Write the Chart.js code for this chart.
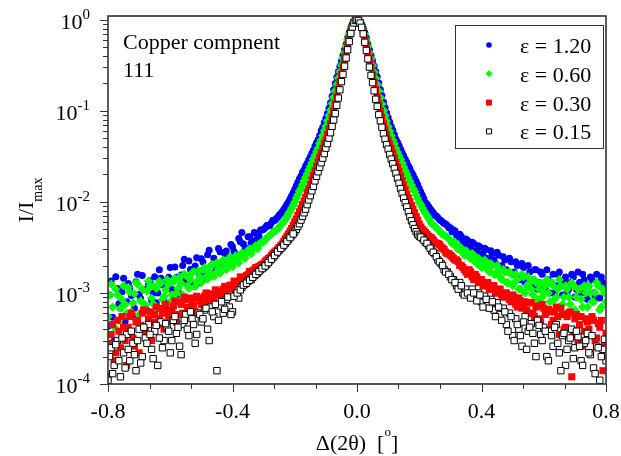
<!DOCTYPE html>
<html>
<head>
<meta charset="utf-8">
<script src="https://cdn.jsdelivr.net/npm/chart.js@4.4.0/dist/chart.umd.min.js"></script>
<style>
html, body { margin: 0; padding: 0; background: #fff; }
canvas { display: block; }
</style>
</head>
<body>
<canvas id="chart" width="621" height="456"></canvas>
<script>
// Δ(2θ) positions: left tail, peak, right tail, and the in-between tail points
var xLeft = [-0.80, -0.79, -0.78, -0.77, -0.76, -0.75, -0.74, -0.73, -0.72, -0.71,
  -0.70, -0.69, -0.68, -0.67, -0.66, -0.65, -0.64, -0.63, -0.62, -0.61,
  -0.60, -0.59, -0.58, -0.57, -0.56, -0.55, -0.54, -0.53, -0.52, -0.51,
  -0.50, -0.49, -0.48, -0.47, -0.46, -0.45, -0.44, -0.43, -0.42, -0.41,
  -0.40, -0.39, -0.38, -0.37, -0.36, -0.35, -0.34, -0.33, -0.32, -0.31,
  -0.30, -0.29, -0.28, -0.27, -0.26, -0.25, -0.24, -0.23, -0.22, -0.21];
var xCore = [-0.200, -0.195, -0.190, -0.185, -0.180, -0.175, -0.170, -0.165, -0.160, -0.155,
  -0.150, -0.145, -0.140, -0.135, -0.130, -0.125, -0.120, -0.115, -0.110, -0.105,
  -0.100, -0.095, -0.090, -0.085, -0.080, -0.075, -0.070, -0.065, -0.060, -0.055,
  -0.050, -0.045, -0.040, -0.035, -0.030, -0.025, -0.020, -0.015, -0.010, -0.005,
  0.000,
  0.005, 0.010, 0.015, 0.020, 0.025, 0.030, 0.035, 0.040, 0.045, 0.050,
  0.055, 0.060, 0.065, 0.070, 0.075, 0.080, 0.085, 0.090, 0.095, 0.100,
  0.105, 0.110, 0.115, 0.120, 0.125, 0.130, 0.135, 0.140, 0.145, 0.150,
  0.155, 0.160, 0.165, 0.170, 0.175, 0.180, 0.185, 0.190, 0.195, 0.200];
var xRight = [0.21, 0.22, 0.23, 0.24, 0.25, 0.26, 0.27, 0.28, 0.29, 0.30,
  0.31, 0.32, 0.33, 0.34, 0.35, 0.36, 0.37, 0.38, 0.39, 0.40,
  0.41, 0.42, 0.43, 0.44, 0.45, 0.46, 0.47, 0.48, 0.49, 0.50,
  0.51, 0.52, 0.53, 0.54, 0.55, 0.56, 0.57, 0.58, 0.59, 0.60,
  0.61, 0.62, 0.63, 0.64, 0.65, 0.66, 0.67, 0.68, 0.69, 0.70,
  0.71, 0.72, 0.73, 0.74, 0.75, 0.76, 0.77, 0.78, 0.79, 0.80];
var xLeftMid = [-0.795, -0.785, -0.775, -0.765, -0.755, -0.745, -0.735, -0.725, -0.715, -0.705,
  -0.695, -0.685, -0.675, -0.665, -0.655, -0.645, -0.635, -0.625, -0.615, -0.605,
  -0.595, -0.585, -0.575, -0.565, -0.555, -0.545, -0.535, -0.525, -0.515, -0.505,
  -0.495, -0.485, -0.475, -0.465, -0.455, -0.445, -0.435, -0.425, -0.415, -0.405,
  -0.395, -0.385, -0.375, -0.365, -0.355, -0.345, -0.335, -0.325, -0.315, -0.305,
  -0.295, -0.285, -0.275, -0.265, -0.255, -0.245, -0.235, -0.225, -0.215, -0.205];
var xRightMid = [0.205, 0.215, 0.225, 0.235, 0.245, 0.255, 0.265, 0.275, 0.285, 0.295,
  0.305, 0.315, 0.325, 0.335, 0.345, 0.355, 0.365, 0.375, 0.385, 0.395,
  0.405, 0.415, 0.425, 0.435, 0.445, 0.455, 0.465, 0.475, 0.485, 0.495,
  0.505, 0.515, 0.525, 0.535, 0.545, 0.555, 0.565, 0.575, 0.585, 0.595,
  0.605, 0.615, 0.625, 0.635, 0.645, 0.655, 0.665, 0.675, 0.685, 0.695,
  0.705, 0.715, 0.725, 0.735, 0.745, 0.755, 0.765, 0.775, 0.785, 0.795];

// eps = 1.20
var blueLeft = [0.00043, 0.00135, 0.00030, 0.00112, 0.00068, 0.00145, 0.00080, 0.00113, 0.00057, 0.00133,
  0.00096, 0.00155, 0.00068, 0.00123, 0.00083, 0.00151, 0.00100, 0.00145, 0.00082, 0.00139,
  0.00190, 0.00099, 0.00149, 0.00097, 0.00200, 0.00137, 0.00224, 0.00127, 0.00198, 0.00129,
  0.00237, 0.00161, 0.00262, 0.00159, 0.00241, 0.00183, 0.00283, 0.00210, 0.00288, 0.00216,
  0.00321, 0.00253, 0.00396, 0.00460, 0.00300, 0.00413, 0.00355, 0.00460, 0.00390, 0.00490,
  0.00500, 0.00550, 0.00550, 0.00630, 0.00650, 0.00720, 0.00780, 0.00880, 0.01000, 0.01170];
var blueCore = [0.0138, 0.0150, 0.0164, 0.0180, 0.0193, 0.0212, 0.0226, 0.0248, 0.0266, 0.0290,
  0.0314, 0.0342, 0.0370, 0.0410, 0.0445, 0.0482, 0.0535, 0.0605, 0.0660, 0.0745,
  0.0830, 0.0935, 0.107, 0.123, 0.145, 0.170, 0.200, 0.234, 0.269, 0.309,
  0.355, 0.407, 0.468, 0.537, 0.631, 0.724, 0.813, 0.891, 0.955, 0.989,
  1.0,
  0.990, 0.957, 0.893, 0.815, 0.726, 0.633, 0.540, 0.470, 0.410, 0.357,
  0.311, 0.271, 0.236, 0.202, 0.172, 0.147, 0.125, 0.109, 0.0950, 0.0845,
  0.0755, 0.0672, 0.0610, 0.0545, 0.0488, 0.0452, 0.0416, 0.0378, 0.0346, 0.0322,
  0.0294, 0.0272, 0.0250, 0.0232, 0.0212, 0.0198, 0.0182, 0.0168, 0.0154, 0.0140];
var blueRight = [0.0118, 0.0098, 0.0089, 0.0080, 0.0071, 0.0067, 0.0062, 0.0058, 0.0055, 0.0052,
  0.0049, 0.0043, 0.0044, 0.0037, 0.0039, 0.0032, 0.0036, 0.0029, 0.0033, 0.0027,
  0.0031, 0.0024, 0.0029, 0.0023, 0.0028, 0.0019, 0.0025, 0.0018, 0.0024, 0.0016,
  0.0022, 0.0015, 0.0021, 0.0013, 0.0020, 0.0014, 0.0018, 0.0011, 0.0017, 0.0012,
  0.0018, 0.0010, 0.0016, 0.0012, 0.0017, 0.00095, 0.0015, 0.0011, 0.0016, 0.00090,
  0.0017, 0.0010, 0.0014, 0.00085, 0.0015, 0.0010, 0.0016, 0.00088, 0.0013, 0.0010];
var blueLeftMid = [0.00095, 0.00054, 0.00151, 0.00076, 0.00103, 0.00049, 0.00127, 0.00094, 0.00068, 0.00160,
  0.00087, 0.00109, 0.00064, 0.00136, 0.00100, 0.00078, 0.00180, 0.00123, 0.00072, 0.00149,
  0.00109, 0.00193, 0.00103, 0.00157, 0.00235, 0.00127, 0.00181, 0.00119, 0.00244, 0.00160,
  0.00218, 0.00143, 0.00295, 0.00205, 0.00171, 0.00307, 0.00209, 0.00270, 0.00208, 0.00340,
  0.00285, 0.00259, 0.00365, 0.00345, 0.00310, 0.00415, 0.00375, 0.00450, 0.00420, 0.00490,
  0.00520, 0.00545, 0.00590, 0.00625, 0.00680, 0.00745, 0.00830, 0.00940, 0.01080, 0.01260];
var blueRightMid = [0.0128, 0.0108, 0.0094, 0.0084, 0.0076, 0.0070, 0.0064, 0.0060, 0.0057, 0.0052,
  0.0047, 0.0048, 0.0041, 0.0042, 0.0035, 0.0038, 0.0031, 0.0035, 0.0028, 0.0032,
  0.0026, 0.0030, 0.0024, 0.0027, 0.0021, 0.0026, 0.0020, 0.0023, 0.0017, 0.0022,
  0.0017, 0.0020, 0.0014, 0.0019, 0.0015, 0.0017, 0.0012, 0.0018, 0.0013, 0.0016,
  0.0011, 0.0014, 0.0013, 0.0010, 0.0016, 0.0012, 0.0014, 0.0010, 0.0013, 0.0015,
  0.0011, 0.0013, 0.0016, 0.0010, 0.0012, 0.0014, 0.0009, 0.0013, 0.0015, 0.0011];

// eps = 0.60
var greenLeft = [0.00055, 0.00125, 0.00042, 0.00095, 0.00068, 0.00120, 0.00060, 0.00102, 0.00078, 0.00130,
  0.00058, 0.00110, 0.00074, 0.00135, 0.00088, 0.00118, 0.00068, 0.00128, 0.00092, 0.00140,
  0.00080, 0.00132, 0.00100, 0.00150, 0.00095, 0.00155, 0.00112, 0.00165, 0.00118, 0.00175,
  0.00130, 0.00190, 0.00142, 0.00200, 0.00152, 0.00215, 0.00165, 0.00230, 0.00180, 0.00245,
  0.00195, 0.00255, 0.00215, 0.00275, 0.00240, 0.00295, 0.00270, 0.00320, 0.00305, 0.00350,
  0.00365, 0.00400, 0.00430, 0.00460, 0.00490, 0.00525, 0.00575, 0.00645, 0.00740, 0.00850];
var greenCore = [0.0100, 0.0110, 0.0120, 0.0132, 0.0141, 0.0155, 0.0170, 0.0186, 0.0204, 0.0224,
  0.0245, 0.0269, 0.0295, 0.0324, 0.0355, 0.0389, 0.0437, 0.0479, 0.0537, 0.0603,
  0.0676, 0.0776, 0.0891, 0.102, 0.120, 0.141, 0.166, 0.195, 0.229, 0.269,
  0.316, 0.372, 0.437, 0.513, 0.603, 0.692, 0.794, 0.881, 0.955, 0.989,
  1.0,
  0.988, 0.953, 0.879, 0.790, 0.688, 0.600, 0.510, 0.434, 0.370, 0.314,
  0.267, 0.228, 0.194, 0.165, 0.140, 0.119, 0.101, 0.0885, 0.0770, 0.0670,
  0.0598, 0.0532, 0.0475, 0.0432, 0.0385, 0.0350, 0.0320, 0.0292, 0.0266, 0.0242,
  0.0221, 0.0202, 0.0184, 0.0168, 0.0153, 0.0140, 0.0130, 0.0119, 0.0109, 0.0099];
var greenRight = [0.0086, 0.0075, 0.0066, 0.0058, 0.0054, 0.0050, 0.0046, 0.0043, 0.0041, 0.0038,
  0.0036, 0.0032, 0.0032, 0.0028, 0.0029, 0.0025, 0.0027, 0.0022, 0.0024, 0.0019,
  0.0023, 0.0018, 0.0021, 0.0016, 0.0020, 0.0015, 0.0018, 0.0013, 0.0017, 0.0012,
  0.0016, 0.0011, 0.0016, 0.0010, 0.0015, 0.0011, 0.0014, 0.00085, 0.0013, 0.0010,
  0.0014, 0.00080, 0.0012, 0.00090, 0.0014, 0.00075, 0.0012, 0.00090, 0.0013, 0.00065,
  0.0011, 0.00085, 0.0012, 0.00070, 0.0010, 0.00080, 0.0013, 0.00065, 0.0011, 0.00080];
var greenLeftMid = [0.00095, 0.00070, 0.00110, 0.00050, 0.00085, 0.00075, 0.00115, 0.00062, 0.00098, 0.00125,
  0.00082, 0.00068, 0.00105, 0.00120, 0.00076, 0.00112, 0.00135, 0.00085, 0.00108, 0.00125,
  0.00095, 0.00145, 0.00112, 0.00128, 0.00160, 0.00120, 0.00140, 0.00172, 0.00132, 0.00150,
  0.00180, 0.00150, 0.00168, 0.00205, 0.00165, 0.00188, 0.00220, 0.00190, 0.00212, 0.00240,
  0.00215, 0.00238, 0.00265, 0.00250, 0.00272, 0.00305, 0.00300, 0.00330, 0.00345, 0.00365,
  0.00385, 0.00415, 0.00445, 0.00475, 0.00505, 0.00550, 0.00610, 0.00690, 0.00790, 0.00920];
var greenRightMid = [0.0093, 0.0080, 0.0070, 0.0062, 0.0056, 0.0052, 0.0048, 0.0044, 0.0042, 0.0039,
  0.0035, 0.0036, 0.0030, 0.0031, 0.0026, 0.0028, 0.0024, 0.0026, 0.0021, 0.0023,
  0.0020, 0.0022, 0.0017, 0.0020, 0.0016, 0.0018, 0.0014, 0.0017, 0.0013, 0.0016,
  0.0013, 0.0014, 0.0011, 0.0015, 0.0012, 0.0013, 0.00095, 0.0013, 0.0011, 0.0009,
  0.0012, 0.0010, 0.0013, 0.00085, 0.0011, 0.0012, 0.0009, 0.0011, 0.00075, 0.0012,
  0.0009, 0.0011, 0.0007, 0.0010, 0.0012, 0.0008, 0.0010, 0.0012, 0.0007, 0.0010];

// eps = 0.30
var redLeft = [0.00012, 0.00035, 0.00018, 0.00050, 0.00025, 0.00042, 0.00016, 0.00055, 0.00032, 0.00048,
  0.00022, 0.00060, 0.00038, 0.00052, 0.00030, 0.00058, 0.00045, 0.00068, 0.00040, 0.00062,
  0.00050, 0.00072, 0.00048, 0.00080, 0.00060, 0.00085, 0.00065, 0.00078, 0.00062, 0.00088,
  0.00075, 0.00092, 0.00080, 0.00098, 0.00085, 0.00100, 0.00095, 0.00110, 0.00100, 0.00120,
  0.00112, 0.00130, 0.00125, 0.00145, 0.00140, 0.00160, 0.00165, 0.00180, 0.00185, 0.00200,
  0.00210, 0.00230, 0.00245, 0.00270, 0.00290, 0.00315, 0.00345, 0.00395, 0.00445, 0.00510];
var redCore = [0.00603, 0.00646, 0.00708, 0.00776, 0.00851, 0.00933, 0.0102, 0.0112, 0.0126, 0.0138,
  0.0155, 0.0174, 0.0195, 0.0219, 0.0245, 0.0275, 0.0309, 0.0347, 0.0389, 0.0437,
  0.0479, 0.0550, 0.0631, 0.0724, 0.0851, 0.100, 0.120, 0.145, 0.174, 0.209,
  0.251, 0.302, 0.363, 0.437, 0.525, 0.631, 0.741, 0.851, 0.933, 0.984,
  1.0,
  0.985, 0.930, 0.845, 0.738, 0.628, 0.522, 0.434, 0.360, 0.300, 0.249,
  0.207, 0.172, 0.144, 0.119, 0.0995, 0.0845, 0.0720, 0.0625, 0.0545, 0.0475,
  0.0432, 0.0385, 0.0343, 0.0305, 0.0270, 0.0240, 0.0215, 0.0192, 0.0172, 0.0153,
  0.0136, 0.0122, 0.0110, 0.0100, 0.0091, 0.0083, 0.0076, 0.0069, 0.0063, 0.0057];
var redRight = [0.0050, 0.0046, 0.0042, 0.0040, 0.0036, 0.0035, 0.0032, 0.0030, 0.0027, 0.0026,
  0.0024, 0.0023, 0.0020, 0.0019, 0.0017, 0.0018, 0.0015, 0.0016, 0.0013, 0.0014,
  0.0012, 0.0013, 0.0011, 0.0012, 0.0010, 0.0011, 0.0009, 0.0010, 0.00085, 0.00095,
  0.00075, 0.00088, 0.00068, 0.00080, 0.00060, 0.00078, 0.00055, 0.00072, 0.00048, 0.00068,
  0.00040, 0.00062, 0.00050, 0.00070, 0.00035, 0.00058, 0.00042, 0.00060, 0.00012, 0.00052,
  0.00030, 0.00055, 0.00038, 0.00048, 0.00022, 0.00050, 0.00032, 0.00042, 0.00014, 0.00036];
var redLeftMid = [0.00028, 0.00045, 0.00022, 0.00038, 0.00055, 0.00030, 0.00042, 0.00060, 0.00026, 0.00050,
  0.00044, 0.00065, 0.00035, 0.00062, 0.00048, 0.00070, 0.00052, 0.00060, 0.00075, 0.00055,
  0.00065, 0.00082, 0.00058, 0.00075, 0.00090, 0.00070, 0.00088, 0.00072, 0.00092, 0.00082,
  0.00085, 0.00100, 0.00088, 0.00095, 0.00108, 0.00098, 0.00105, 0.00118, 0.00110, 0.00122,
  0.00135, 0.00128, 0.00150, 0.00148, 0.00155, 0.00172, 0.00175, 0.00190, 0.00195, 0.00205,
  0.00222, 0.00238, 0.00258, 0.00280, 0.00302, 0.00330, 0.00370, 0.00420, 0.00478, 0.00555];
var redRightMid = [0.0053, 0.0048, 0.0044, 0.0041, 0.0038, 0.0035, 0.0034, 0.0031, 0.0028, 0.0027,
  0.0025, 0.0023, 0.0022, 0.0020, 0.0018, 0.0016, 0.0017, 0.0014, 0.0015, 0.0014,
  0.0012, 0.0013, 0.0011, 0.0012, 0.0010, 0.0011, 0.00095, 0.00100, 0.00090, 0.00080,
  0.00090, 0.00070, 0.00082, 0.00075, 0.00065, 0.00078, 0.00060, 0.00070, 0.00052, 0.00075,
  0.00058, 0.00066, 0.00045, 0.00062, 0.00055, 0.00068, 0.00040, 0.00055, 0.00062, 0.00035,
  0.00058, 0.00045, 0.00026, 0.00052, 0.00040, 0.00055, 0.00030, 0.00046, 0.00050, 0.00028];

// eps = 0.15
var blackLeft = [0.00011, 0.00025, 0.00016, 0.00030, 0.00012, 0.00022, 0.00035, 0.00018, 0.00028, 0.00014,
  0.00040, 0.00020, 0.00032, 0.00045, 0.00024, 0.00038, 0.00016, 0.00048, 0.00030, 0.00042,
  0.00022, 0.00050, 0.00036, 0.00026, 0.00045, 0.00058, 0.00034, 0.00052, 0.00028, 0.00060,
  0.00048, 0.00065, 0.00040, 0.00070, 0.00055, 0.00014, 0.00072, 0.00060, 0.00085, 0.00070,
  0.00062, 0.00095, 0.00088, 0.00115, 0.00125, 0.00135, 0.00140, 0.00155, 0.00165, 0.00180,
  0.00190, 0.00205, 0.00225, 0.00245, 0.00270, 0.00295, 0.00320, 0.00350, 0.00385, 0.00425];
var blackCore = [0.00468, 0.00501, 0.00537, 0.00575, 0.00631, 0.00692, 0.00759, 0.00832, 0.00933, 0.0105,
  0.0117, 0.0132, 0.0148, 0.0170, 0.0191, 0.0214, 0.0240, 0.0269, 0.0302, 0.0339,
  0.0389, 0.0437, 0.0501, 0.0575, 0.0676, 0.0794, 0.0933, 0.115, 0.138, 0.170,
  0.209, 0.251, 0.309, 0.380, 0.468, 0.575, 0.708, 0.832, 0.923, 0.982,
  1.0,
  0.981, 0.920, 0.826, 0.700, 0.566, 0.460, 0.372, 0.302, 0.245, 0.204,
  0.166, 0.134, 0.112, 0.0905, 0.0775, 0.0660, 0.0560, 0.0488, 0.0426, 0.0380,
  0.0332, 0.0295, 0.0262, 0.0233, 0.0206, 0.0182, 0.0160, 0.0140, 0.0124, 0.0110,
  0.0098, 0.0088, 0.0078, 0.0069, 0.0062, 0.0056, 0.0051, 0.0047, 0.0044, 0.0042];
var blackRight = [0.0040, 0.0036, 0.0033, 0.0029, 0.0027, 0.0023, 0.0021, 0.0018, 0.0017, 0.0015,
  0.0014, 0.0012, 0.0013, 0.0010, 0.0011, 0.00095, 0.0011, 0.00090, 0.0010, 0.00080,
  0.00092, 0.00075, 0.00085, 0.00065, 0.00078, 0.00058, 0.00068, 0.00045, 0.00060, 0.00034,
  0.00052, 0.00040, 0.00026, 0.00055, 0.00038, 0.00046, 0.00028, 0.00050, 0.00035, 0.00042,
  0.00020, 0.00038, 0.00026, 0.00045, 0.00022, 0.00034, 0.00016, 0.00030, 0.00040, 0.00025,
  0.00033, 0.00018, 0.00028, 0.00036, 0.00021, 0.00015, 0.00026, 0.00011, 0.00024, 0.00018];
var blackLeftMid = [0.00020, 0.00013, 0.00027, 0.00018, 0.00032, 0.00015, 0.00024, 0.00038, 0.00021, 0.00030,
  0.00017, 0.00042, 0.00028, 0.00035, 0.00019, 0.00044, 0.00032, 0.00025, 0.00046, 0.00038,
  0.00030, 0.00055, 0.00042, 0.00021, 0.00050, 0.00040, 0.00062, 0.00045, 0.00035, 0.00058,
  0.00052, 0.00068, 0.00030, 0.00062, 0.00075, 0.00050, 0.00080, 0.00066, 0.00090, 0.00058,
  0.00092, 0.00100, 0.00108, 0.00122, 0.00128, 0.00138, 0.00148, 0.00160, 0.00172, 0.00185,
  0.00198, 0.00215, 0.00235, 0.00258, 0.00282, 0.00308, 0.00335, 0.00368, 0.00405, 0.00445];
var blackRightMid = [0.0041, 0.0038, 0.0035, 0.0031, 0.0028, 0.0025, 0.0022, 0.0020, 0.0017, 0.0016,
  0.0014, 0.0013, 0.0011, 0.0012, 0.00095, 0.0010, 0.00088, 0.0010, 0.00082, 0.00095,
  0.00070, 0.00085, 0.00068, 0.00080, 0.00055, 0.00070, 0.00050, 0.00062, 0.00038, 0.00055,
  0.00030, 0.00045, 0.00034, 0.00048, 0.00024, 0.00042, 0.00036, 0.00020, 0.00044, 0.00030,
  0.00038, 0.00018, 0.00034, 0.00042, 0.00028, 0.00014, 0.00036, 0.00024, 0.00032, 0.00019,
  0.00038, 0.00026, 0.00016, 0.00030, 0.00022, 0.00034, 0.00013, 0.00025, 0.00020, 0.00031];

var seriesLabels = ['\u03b5 = 1.20', '\u03b5 = 0.60', '\u03b5 = 0.30', '\u03b5 = 0.15'];
var xTicks = [-0.8, -0.4, 0.0, 0.4, 0.8];
var xTickLabels = ['-0.8', '-0.4', '0.0', '0.4', '0.8'];
var yTicks = [1, 0.1, 0.01, 0.001, 0.0001];
var yTickExps = ['0', '-1', '-2', '-3', '-4'];

var serif = '"Liberation Serif", "Times New Roman", serif';
var axisColor = '#333333';

var xGroups = [xLeft, xCore, xRight, xLeftMid, xRightMid];
function toPoints(yGroups) {
    var pts = [];
    yGroups.forEach(function (ys, g) {
        xGroups[g].forEach(function (x, i) { pts.push({ x: x, y: ys[i] }); });
    });
    return pts;
}

// frame, ticks, labels, note and legend drawn by hand: the original has
// superscript tick labels, short minor ticks and a boxed legend inside the plot
var decorations = {
    id: 'decorations',
    afterDatasetsDraw: function (chart) {
        var ctx = chart.ctx;
        var a = chart.chartArea;
        var xs = chart.scales.x, ys = chart.scales.y;
        ctx.save();

        ctx.strokeStyle = axisColor;
        ctx.lineWidth = 1.6;
        ctx.strokeRect(a.left, a.top, a.right - a.left, a.bottom - a.top);

        ctx.lineWidth = 1;
        ctx.beginPath();
        for (var i = 0; i < xTicks.length; i++) {
            var px = Math.round(xs.getPixelForValue(xTicks[i])) + 0.5;
            ctx.moveTo(px, a.bottom);
            ctx.lineTo(px, a.bottom + 8);
            if (i < xTicks.length - 1) {
                var step = (xTicks[i + 1] - xTicks[i]) / 3;
                for (var m = 1; m < 3; m++) {
                    var mx = Math.round(xs.getPixelForValue(xTicks[i] + m * step)) + 0.5;
                    ctx.moveTo(mx, a.bottom);
                    ctx.lineTo(mx, a.bottom + 5);
                }
            }
        }
        for (var j = 0; j < yTicks.length; j++) {
            var py = Math.round(ys.getPixelForValue(yTicks[j])) + 0.5;
            ctx.moveTo(a.left, py);
            ctx.lineTo(a.left - 8, py);
            if (j > 0) {
                for (var k = 2; k < 10; k++) {
                    var my = Math.round(ys.getPixelForValue(yTicks[j] * k)) + 0.5;
                    ctx.moveTo(a.left, my);
                    ctx.lineTo(a.left - 5, my);
                }
            }
        }
        ctx.stroke();

        ctx.fillStyle = '#000';
        ctx.textBaseline = 'alphabetic';

        ctx.font = '22px ' + serif;
        ctx.textAlign = 'center';
        xTicks.forEach(function (v, i) {
            ctx.fillText(xTickLabels[i], xs.getPixelForValue(v), a.bottom + 34);
        });

        ctx.textAlign = 'left';
        yTicks.forEach(function (v, i) {
            var py = ys.getPixelForValue(v);
            ctx.font = '15px ' + serif;
            var wExp = ctx.measureText(yTickExps[i]).width;
            ctx.font = '22px ' + serif;
            var wBase = ctx.measureText('10').width;
            var right = a.left - 18;
            ctx.fillText('10', right - wExp - wBase, py + 9);
            ctx.font = '15px ' + serif;
            ctx.fillText(yTickExps[i], right - wExp, py - 1);
        });

        // x title with raised degree mark
        var t1 = '\u0394(2\u03b8)  [', t2 = 'o', t3 = ']';
        ctx.font = '22px ' + serif;
        var w1 = ctx.measureText(t1).width, w3 = ctx.measureText(t3).width;
        ctx.font = '13px ' + serif;
        var w2 = ctx.measureText(t2).width;
        var cx = (a.left + a.right) / 2;
        var sx = cx - (w1 + w2 + w3) / 2;
        var by = a.bottom + 66;
        ctx.font = '22px ' + serif;
        ctx.fillText(t1, sx, by);
        ctx.fillText(t3, sx + w1 + w2, by);
        ctx.font = '13px ' + serif;
        ctx.fillText(t2, sx + w1, by - 14);

        // y title I/I_max
        ctx.save();
        ctx.translate(33, (a.top + a.bottom) / 2);
        ctx.rotate(-Math.PI / 2);
        ctx.font = '22px ' + serif;
        var wa = ctx.measureText('I/I').width;
        ctx.font = '14px ' + serif;
        var wb = ctx.measureText('max').width;
        var st = -(wa + wb) / 2;
        ctx.font = '22px ' + serif;
        ctx.fillText('I/I', st, 0);
        ctx.font = '14px ' + serif;
        ctx.fillText('max', st + wa, 9);
        ctx.restore();

        ctx.font = '22px ' + serif;
        ctx.fillText('Copper compnent', a.left + 15, a.top + 33);
        ctx.fillText('111', a.left + 15, a.top + 61);

        // legend box
        ctx.lineWidth = 1;
        ctx.strokeStyle = axisColor;
        ctx.strokeRect(455.5, 25.5, 148, 123);
        chart.data.datasets.forEach(function (ds, i) {
            var ly = 45 + i * 28.8;
            var lx = 489;
            ctx.fillStyle = ds.backgroundColor;
            ctx.strokeStyle = ds.borderColor;
            ctx.beginPath();
            if (ds.pointStyle === 'circle') {
                ctx.arc(lx, ly, 2.8, 0, Math.PI * 2);
                ctx.fill();
            } else if (ds.pointStyle === 'rectRot') {
                ctx.moveTo(lx - 3.5, ly); ctx.lineTo(lx, ly - 3.5);
                ctx.lineTo(lx + 3.5, ly); ctx.lineTo(lx, ly + 3.5);
                ctx.closePath();
                ctx.fill();
            } else if (ds.borderWidth > 0) {
                ctx.rect(lx - 2.5, ly - 2.5, 5, 5);
                ctx.fill();
                ctx.lineWidth = 1;
                ctx.stroke();
            } else {
                ctx.rect(lx - 3, ly - 3, 6, 6);
                ctx.fill();
            }
            ctx.fillStyle = '#000';
            ctx.font = '22px ' + serif;
            ctx.fillText(ds.label, 520, ly + 8);
        });

        ctx.restore();
    }
};

new Chart(document.getElementById('chart').getContext('2d'), {
    type: 'scatter',
    data: {
        datasets: [{
            label: seriesLabels[0],
            data: toPoints([blueLeft, blueCore, blueRight, blueLeftMid, blueRightMid]),
            pointStyle: 'circle',
            pointRadius: 3.5,
            backgroundColor: '#0000ff',
            borderColor: '#0000ff',
            borderWidth: 0,
            order: 3,
            clip: 0
        }, {
            label: seriesLabels[1],
            data: toPoints([greenLeft, greenCore, greenRight, greenLeftMid, greenRightMid]),
            pointStyle: 'rectRot',
            pointRadius: 4.6,
            backgroundColor: '#00ff00',
            borderColor: '#00ff00',
            borderWidth: 0,
            order: 2,
            clip: 0
        }, {
            label: seriesLabels[2],
            data: toPoints([redLeft, redCore, redRight, redLeftMid, redRightMid]),
            pointStyle: 'rect',
            pointRadius: 5.0,
            backgroundColor: '#ff0000',
            borderColor: '#ff0000',
            borderWidth: 0,
            order: 1,
            clip: 0
        }, {
            label: seriesLabels[3],
            data: toPoints([blackLeft, blackCore, blackRight, blackLeftMid, blackRightMid]),
            pointStyle: 'rect',
            pointRadius: 4.5,
            backgroundColor: '#ffffff',
            borderColor: '#000000',
            borderWidth: 1,
            order: 0,
            clip: 0
        }]
    },
    options: {
        responsive: false,
        animation: false,
        events: [],
        layout: { padding: { left: 108, right: 15, top: 16, bottom: 72 } },
        scales: {
            x: { type: 'linear', display: false, min: -0.8, max: 0.8 },
            y: { type: 'logarithmic', display: false, min: 0.0001, max: 1.1 }
        },
        plugins: {
            legend: { display: false },
            tooltip: { enabled: false }
        }
    },
    plugins: [decorations]
});
</script>
</body>
</html>
